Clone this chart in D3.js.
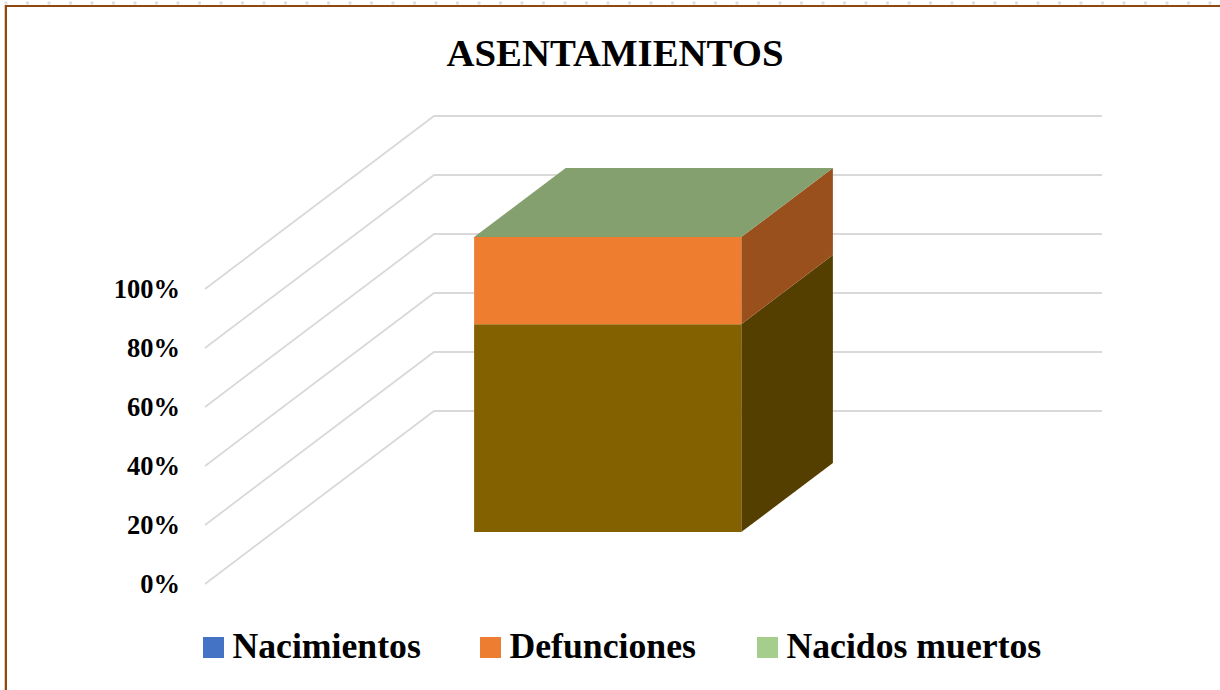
<!DOCTYPE html>
<html><head><meta charset="utf-8">
<script src="https://cdn.jsdelivr.net/npm/d3@7/dist/d3.min.js"></script>
<style>html,body{margin:0;padding:0;background:#fff}svg{display:block}text{font-family:"Liberation Serif",serif;font-weight:700;fill:#000}</style>
</head><body><svg id="c" width="1220" height="690"></svg>
<script>
const title = "ASENTAMIENTOS";
const categories = ["Asentamientos"];
const seriesNames = ["Nacimientos","Defunciones","Nacidos muertos"];
const seriesValues = [[70.5],[29.5],[0]];
const legendColors = ["#4472C4","#ED7D31","#A5CE8C"];
const frontColors = ["#846100","#EE7D30","#A5CE8C"];
const sideColors = ["#543F00","#9A501D","#6A8A55"];
const topColor = "#85A06F";
const yTicks = [0,20,40,60,80,100];

const W=1220,H=690;
const svg=d3.select("#c");
const y=d3.scaleLinear().domain([0,100]).range([584,289]);
const x=d3.scaleBand().domain(categories).range([205,873]).paddingInner(0).paddingOuter(0.75);
// depth axis of the 3-D box: 0 = front, 1 = back wall
const dx=d3.scaleLinear().domain([0,1]).range([0,229]);
const dy=d3.scaleLinear().domain([0,1]).range([0,-173]);
const P=(xv,yv,d)=>[xv+dx(d),y(yv)+dy(d)];
const poly=pts=>"M"+pts.map(p=>p.join(",")).join("L")+"Z";

// frame
const dots=d3.range(6,1220,21.5);
svg.append("g").selectAll("circle").data(dots).join("circle")
  .attr("cx",d=>d).attr("cy",3).attr("r",1.7).attr("fill","#dedede");
svg.append("rect").attr("x",4).attr("y",5).attr("width",1).attr("height",685).attr("fill","#e3cbb8");
svg.append("rect").attr("x",5).attr("y",5).attr("width",2).attr("height",685).attr("fill","#8F480F");
svg.append("rect").attr("x",5).attr("y",5).attr("width",1215).attr("height",2).attr("fill","#8F480F");

// grid
const grid=svg.append("g").attr("fill","none").attr("stroke","#d9d9d9").attr("stroke-width",1.8);
yTicks.forEach(t=>{
  const a=P(205,t,0),b=P(205,t,1),c=P(873,t,1);
  grid.append("path").attr("d",d3.line()([a,b,c]));
});

// y labels
svg.append("g").selectAll("text").data(yTicks).join("text")
  .attr("x",180).attr("y",d=>y(d)+9).attr("text-anchor","end")
  .attr("font-size",26.5).text(d=>d+"%");

// stacked 3-D bar
const stack=d3.stack().keys(d3.range(seriesNames.length)).value((row,k)=>row[k]);
const rows=categories.map((c,i)=>seriesValues.map(s=>s[i]));
const layers=stack(rows);
const d0=0.3,d1=0.7;
const bar=svg.append("g");
categories.forEach((c,i)=>{
  const xl=x(c),xr=xl+x.bandwidth();
  layers.forEach((l,k)=>{
    const [v0,v1]=l[i];
    if(v1<=v0) return;
    bar.append("path").attr("d",poly([P(xr,v0,d0),P(xr,v0,d1),P(xr,v1,d1),P(xr,v1,d0)])).attr("fill",sideColors[k]);
    bar.append("path").attr("d",poly([P(xl,v0,d0),P(xr,v0,d0),P(xr,v1,d0),P(xl,v1,d0)])).attr("fill",frontColors[k]);
  });
  const t=layers[layers.length-1][i][1];
  bar.append("path").attr("d",poly([P(xl,t,d0),P(xr,t,d0),P(xr,t,d1),P(xl,t,d1)])).attr("fill",topColor);
});

// title
svg.append("text").attr("x",615).attr("y",66).attr("text-anchor","middle").attr("font-size",38.8).text(title);

// legend
const legendX=[203,480,757];
const lg=svg.append("g").selectAll("g").data(seriesNames).join("g")
  .attr("transform",(d,i)=>`translate(${legendX[i]},637)`);
lg.append("rect").attr("width",21).attr("height",21).attr("fill",(d,i)=>legendColors[i]);
lg.append("text").attr("x",29.5).attr("y",21).attr("font-size",35.7).text(d=>d);
</script></body></html>
